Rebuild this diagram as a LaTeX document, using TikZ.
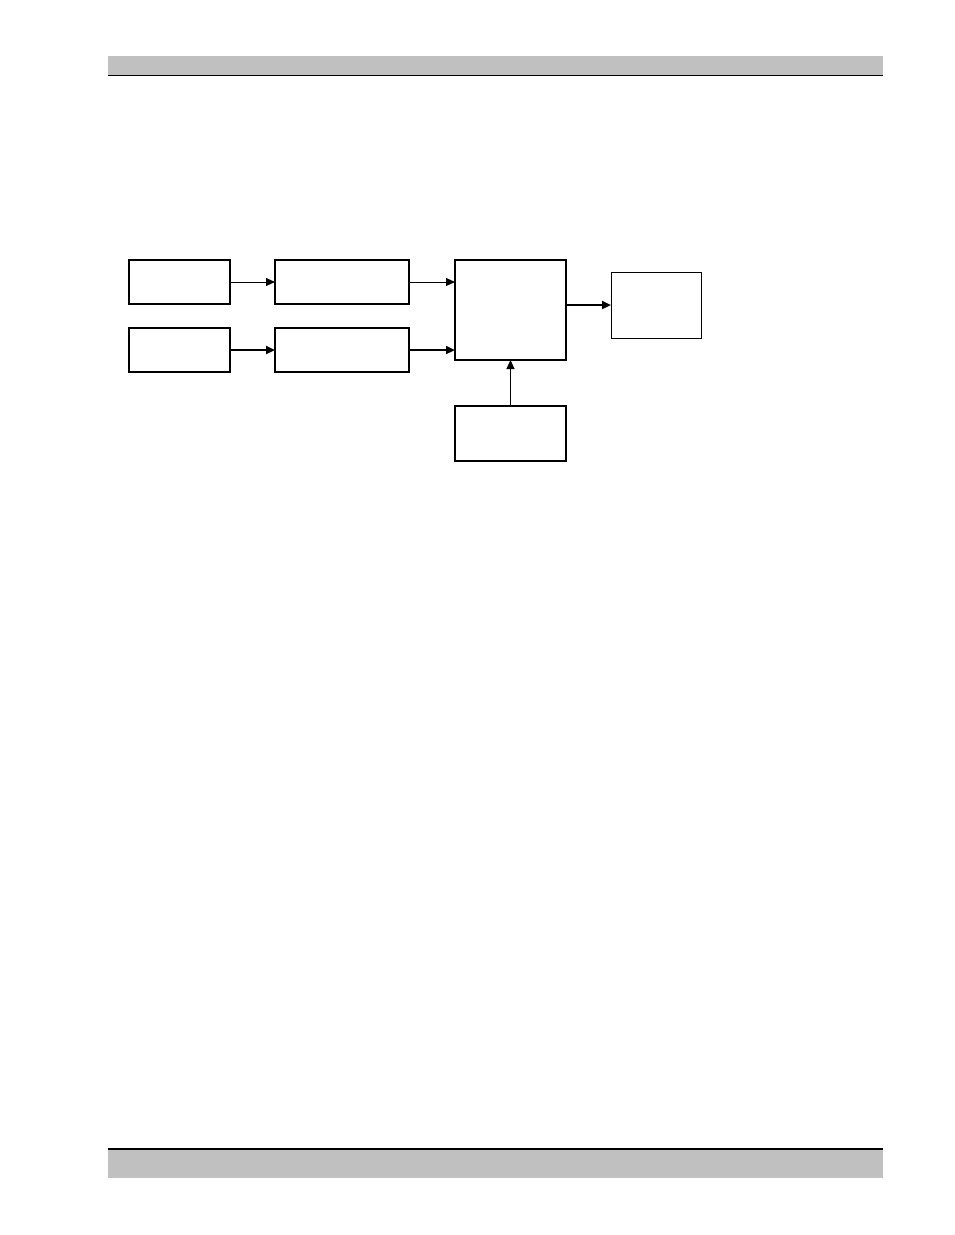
\documentclass[tikz,border=0pt]{standalone}
\definecolor{bargray}{RGB}{192, 192, 192}
\usepackage{tikz}
\usetikzlibrary{arrows.meta,positioning}

\begin{document}
\begin{tikzpicture}[x=1pt, y=-1pt, node distance=45pt,
    block/.style={rectangle, draw, line width=2pt, inner sep=0pt, outer sep=0pt},
    thinarrow/.style={-{Triangle[length=9pt, width=8pt]}, line width=1pt},
    thickarrow/.style={-{Triangle[length=9pt, width=8pt]}, line width=2.2pt}]
    \useasboundingbox (0,0) rectangle (954,1235);

    % header and footer bars
    \fill[bargray] (108,56) rectangle (883,75);
    \draw[line width=1.6pt] (108,75.5) -- (883,75.5);
    \fill[bargray] (108,1149) rectangle (883,1178);
    \draw[line width=1.6pt] (108,1149) -- (883,1149);

    \node[block, minimum width=101pt, minimum height=44pt] (src1) at (179.5,282) {};
    \node[block, minimum width=134pt, minimum height=44pt, right=of src1] (cond1) {};
    \node[block, minimum width=101pt, minimum height=44pt, below=24pt of src1] (src2) {};
    \node[block, minimum width=134pt, minimum height=44pt, below=24pt of cond1] (cond2) {};
    \node[block, minimum width=111pt, minimum height=100pt, right=46pt of cond1.north east, anchor=north west] (mix) {};
    \node[block, line width=1pt, minimum width=90pt, minimum height=66pt, right=of mix, yshift=5pt] (out) {};
    \node[block, minimum width=111pt, minimum height=55pt, below=46pt of mix] (ctl) {};

    \draw[thinarrow] (src1) -- (cond1);
    \draw[thickarrow] (src2) -- (cond2);
    \draw[thinarrow] (cond1) -- (cond1 -| mix.west);
    \draw[thickarrow] (cond2) -- (cond2 -| mix.west);
    \draw[thickarrow] (out -| mix.east) -- (out);
    \draw[thinarrow] (ctl) -- (mix);
\end{tikzpicture}
\end{document}
